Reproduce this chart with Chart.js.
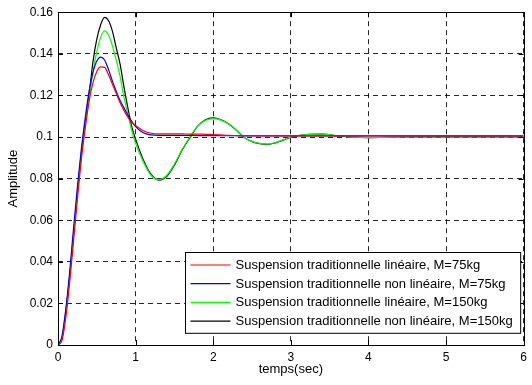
<!DOCTYPE html>
<html>
<head>
<meta charset="utf-8">
<script src="https://cdn.jsdelivr.net/npm/chart.js@4.4.1/dist/chart.umd.min.js"></script>
<style>
  html, body { margin: 0; padding: 0; background: #fff; }
  #wrap { width: 532px; height: 385px; }
</style>
</head>
<body>
<div id="wrap"><canvas id="chart"></canvas></div>
<script>
// --- données ---
const temps = [0, 0.05, 0.1, 0.15, 0.2, 0.25, 0.3, 0.35, 0.4, 0.45, 0.5, 0.55, 0.6, 0.65, 0.7, 0.75, 0.8, 0.85, 0.9, 0.95,
  1.0, 1.1, 1.2, 1.3, 1.4, 1.5, 1.6, 1.7, 1.8, 1.9, 2.0, 2.1, 2.2, 2.3, 2.4, 2.5, 2.6, 2.7, 2.8, 2.9,
  3.0, 3.2, 3.4, 3.6, 3.8, 4.0, 4.2, 4.5, 5.0, 5.5, 6.0];

const linM75 = [0, 0.002, 0.013, 0.030, 0.050, 0.070, 0.089, 0.104, 0.117, 0.126, 0.1315, 0.1337, 0.1335, 0.130, 0.1255, 0.121, 0.1165, 0.1128, 0.1095, 0.107,
  0.1055, 0.103, 0.1018, 0.1015, 0.1015, 0.1015, 0.1015, 0.1014, 0.1014, 0.1013, 0.1012, 0.101, 0.1008, 0.1007, 0.1006, 0.1006, 0.1005, 0.1005, 0.1005, 0.1005,
  0.1005, 0.1005, 0.1005, 0.1005, 0.1005, 0.1005, 0.1005, 0.1005, 0.1005, 0.1005, 0.1005];

const nonLinM75 = [0, 0.004, 0.017, 0.035, 0.056, 0.076, 0.094, 0.109, 0.122, 0.131, 0.1365, 0.1384, 0.137, 0.1325, 0.127, 0.122, 0.1175, 0.114, 0.1105, 0.1075,
  0.105, 0.102, 0.101, 0.1008, 0.1008, 0.1008, 0.1008, 0.1008, 0.1007, 0.1007, 0.1007, 0.1006, 0.1006, 0.1006, 0.1005, 0.1005, 0.1005, 0.1005, 0.1005, 0.1005,
  0.1005, 0.1005, 0.1005, 0.1005, 0.1005, 0.1005, 0.1005, 0.1005, 0.1005, 0.1005, 0.1005];

const linM150 = [0, 0.003, 0.015, 0.032, 0.052, 0.072, 0.090, 0.105, 0.118, 0.131, 0.141, 0.148, 0.151, 0.149, 0.144, 0.137, 0.129, 0.119, 0.111, 0.103,
  0.097, 0.088, 0.0815, 0.0795, 0.0815, 0.087, 0.094, 0.100, 0.1052, 0.108, 0.1088, 0.1081, 0.1062, 0.1032, 0.0998, 0.0979, 0.0969, 0.0966, 0.0973, 0.0986,
  0.1, 0.1012, 0.1014, 0.1006, 0.0999, 0.0997, 0.0998, 0.1, 0.1001, 0.1, 0.1];

const nonLinM150 = [0, 0.003, 0.016, 0.033, 0.053, 0.073, 0.092, 0.107, 0.120, 0.136, 0.147, 0.154, 0.1575, 0.156, 0.151, 0.143, 0.135, 0.124, 0.114, 0.105,
  0.099, 0.089, 0.082, 0.0793, 0.081, 0.0865, 0.0938, 0.0997, 0.1052, 0.1083, 0.1092, 0.1083, 0.1063, 0.1032, 0.0997, 0.0978, 0.0968, 0.0965, 0.0972, 0.0985,
  0.0999, 0.1012, 0.1014, 0.1006, 0.0999, 0.0997, 0.0998, 0.1, 0.1001, 0.1, 0.1];

const legendes = [
  "Suspension traditionnelle linéaire, M=75kg",
  "Suspension traditionnelle non linéaire, M=75kg",
  "Suspension traditionnelle linéaire, M=150kg",
  "Suspension traditionnelle non linéaire, M=150kg"
];
const couleurs = ["#ff0000", "#0000ff", "#00ff00", "#000000"];
const series = [linM75, nonLinM75, linM150, nonLinM150];

const FONT = "'Liberation Sans', Arial, Helvetica, sans-serif";

// cadre, graduations internes et légende façon matlab
const matlabPlugin = {
  id: "matlab",
  afterDraw(chart) {
    const ctx = chart.ctx;
    const a = chart.chartArea;
    const xs = chart.scales.x, ys = chart.scales.y;
    ctx.save();
    ctx.strokeStyle = "#000";
    ctx.lineWidth = 1;
    ctx.setLineDash([]);
    ctx.strokeRect(Math.round(a.left) + 0.5, Math.round(a.top) + 0.5, Math.round(a.right - a.left), Math.round(a.bottom - a.top));
    // graduations
    ctx.beginPath();
    xs.ticks.forEach(t => {
      const px = Math.round(xs.getPixelForValue(t.value)) + 0.5;
      ctx.moveTo(px, a.bottom); ctx.lineTo(px, a.bottom - 5);
      ctx.moveTo(px, a.top); ctx.lineTo(px, a.top + 5);
    });
    ys.ticks.forEach(t => {
      const py = Math.round(ys.getPixelForValue(t.value)) + 0.5;
      ctx.moveTo(a.left, py); ctx.lineTo(a.left + 5, py);
      ctx.moveTo(a.right, py); ctx.lineTo(a.right - 5, py);
    });
    ctx.stroke();

    // légende
    ctx.font = "13px " + FONT;
    let maxW = 0;
    legendes.forEach(l => { maxW = Math.max(maxW, ctx.measureText(l).width); });
    const rowH = 18.7;
    const boxW = 50 + maxW + 8;
    const boxH = rowH * legendes.length + 6;
    const bx = Math.round(a.right - 4 - boxW) + 0.5;
    const by = Math.round(a.bottom - 12 - boxH) + 0.5;
    ctx.fillStyle = "#fff";
    ctx.fillRect(bx, by, boxW, boxH);
    ctx.strokeStyle = "#000";
    ctx.strokeRect(bx, by, boxW, boxH);
    legendes.forEach((l, i) => {
      const cy = by + 12.5 + i * rowH;
      ctx.strokeStyle = couleurs[i];
      ctx.lineWidth = 1.2;
      ctx.beginPath();
      ctx.moveTo(bx + 5, cy); ctx.lineTo(bx + 45, cy);
      ctx.stroke();
      ctx.fillStyle = "#000";
      ctx.textBaseline = "middle";
      ctx.textAlign = "left";
      ctx.fillText(l, bx + 50, cy + 0.5);
    });
    ctx.restore();
  }
};

const datasets = series.map((s, i) => ({
  label: legendes[i],
  data: temps.map((t, j) => ({ x: t, y: s[j] })),
  borderColor: couleurs[i],
  borderWidth: 1.2,
  pointRadius: 0,
  cubicInterpolationMode: "monotone",
  fill: false
}));

new Chart(document.getElementById("chart"), {
  type: "line",
  data: { datasets },
  options: {
    responsive: true,
    maintainAspectRatio: false,
    animation: false,
    layout: { padding: { top: 7, right: 4, left: 0, bottom: 0 } },
    plugins: { legend: { display: false }, tooltip: { enabled: false } },
    scales: {
      x: {
        type: "linear",
        min: 0, max: 6,
        afterFit: s => { s.height = 40; },
        ticks: { stepSize: 1, color: "#000", font: { family: FONT, size: 12 }, padding: 5, maxRotation: 0 },
        grid: { color: "rgba(0,0,0,0.85)", lineWidth: 1, drawTicks: false },
        border: { display: false, dash: [5, 4] },
        title: { display: true, text: "temps(sec)", color: "#000", font: { family: FONT, size: 13 }, padding: { top: 0, bottom: 8 } }
      },
      y: {
        min: 0, max: 0.16,
        afterFit: s => { s.width = 58; },
        ticks: {
          stepSize: 0.02, color: "#000", font: { family: FONT, size: 12 }, padding: 5,
          callback: v => String(Number(v.toFixed(2)))
        },
        grid: { color: "rgba(0,0,0,0.85)", lineWidth: 1, drawTicks: false },
        border: { display: false, dash: [5, 4] },
        title: { display: true, text: "Amplitude", color: "#000", font: { family: FONT, size: 13 }, padding: { top: 6, bottom: 0 } }
      }
    }
  },
  plugins: [matlabPlugin]
});
</script>
</body>
</html>
